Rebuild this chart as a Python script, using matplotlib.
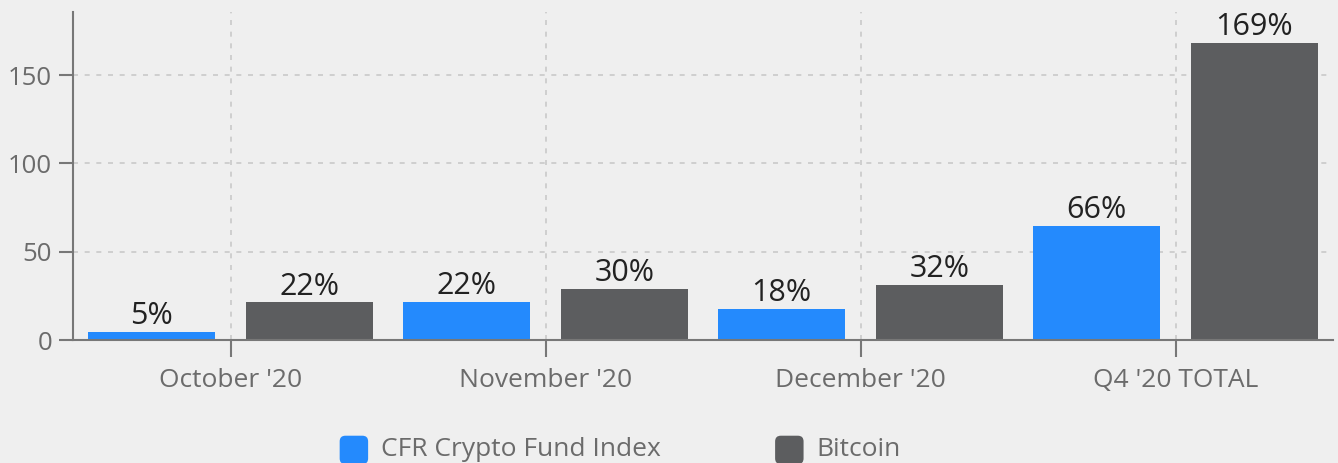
import matplotlib
matplotlib.use('Agg')
import matplotlib.pyplot as plt
import numpy as np
from matplotlib.patches import FancyBboxPatch
from matplotlib.legend_handler import HandlerPatch

categories = ["October '20", "November '20", "December '20", "Q4 '20 TOTAL"]
fund_values = [4.6, 21.5, 17.6, 64.6]
btc_values = [21.3, 29.0, 31.2, 168.2]
fund_labels = ['5%', '22%', '18%', '66%']
btc_labels = ['22%', '30%', '32%', '169%']
series_names = ['CFR Crypto Fund Index', 'Bitcoin']

blue = '#248afd'
grey = '#5c5d5f'
bg = '#efefef'
axis_col = '#777777'
text_col = '#6b6b6b'

plt.rcParams['font.family'] = ['Open Sans', 'DejaVu Sans']

fig = plt.figure(figsize=(13.38, 4.63), dpi=100, facecolor=bg)
ax = fig.add_axes([73 / 1338, 1 - 340 / 463, (1333 - 73) / 1338, (340 - 12) / 463])
ax.set_facecolor(bg)

x = np.arange(len(categories))
width = 0.403
b1 = ax.bar(x - 0.25, fund_values, width, color=blue, label=series_names[0], zorder=2)
b2 = ax.bar(x + 0.25, btc_values, width, color=grey, label=series_names[1], zorder=2)

for bars, labels in ((b1, fund_labels), (b2, btc_labels)):
    for rect, lab in zip(bars, labels):
        ax.text(rect.get_x() + rect.get_width() / 2, rect.get_height() + 0.3, lab,
                ha='center', va='bottom', fontsize=22, color='#222222', zorder=3)

ax.set_xlim(-0.5, 3.5)
ax.set_ylim(0, 185.7)
ax.set_xticks(x)
ax.set_xticklabels(categories)
ax.set_yticks([0, 50, 100, 150])

ax.grid(True, color='#c9c9c9', linestyle=(0, (3, 4)), linewidth=1.2, zorder=0)
ax.set_axisbelow(True)

for side in ('top', 'right'):
    ax.spines[side].set_visible(False)
for side in ('left', 'bottom'):
    ax.spines[side].set_color(axis_col)
    ax.spines[side].set_linewidth(1.5)
    ax.spines[side].set_zorder(4)

ax.tick_params(axis='y', length=10, width=1.5, color=axis_col, labelcolor=text_col,
               labelsize=18.5, pad=5)
ax.tick_params(axis='x', length=12, width=1.5, color=axis_col, labelcolor=text_col,
               labelsize=19, pad=8)


class RoundHandler(HandlerPatch):
    def create_artists(self, legend, orig_handle, xdescent, ydescent, width, height,
                       fontsize, trans):
        s = min(width, height) * 1.25
        p = FancyBboxPatch((-xdescent + (width - s) / 2, -ydescent + (height - s) / 2 - 2), s, s,
                           boxstyle='round,pad=0,rounding_size=%f' % (s * 0.2),
                           facecolor=orig_handle.get_facecolor(), edgecolor='none',
                           transform=trans)
        return [p]


leg = fig.legend(handles=[b1.patches[0], b2.patches[0]], labels=series_names,
                 loc='center', bbox_to_anchor=(621 / 1338, 1 - 449 / 463), ncol=2,
                 frameon=False, fontsize=19, handlelength=0.95, handleheight=0.95,
                 handletextpad=0.55, columnspacing=4.4,
                 handler_map={matplotlib.patches.Rectangle: RoundHandler()})
for t in leg.get_texts():
    t.set_color(text_col)

fig.savefig('out.png', dpi=100, facecolor=bg)
